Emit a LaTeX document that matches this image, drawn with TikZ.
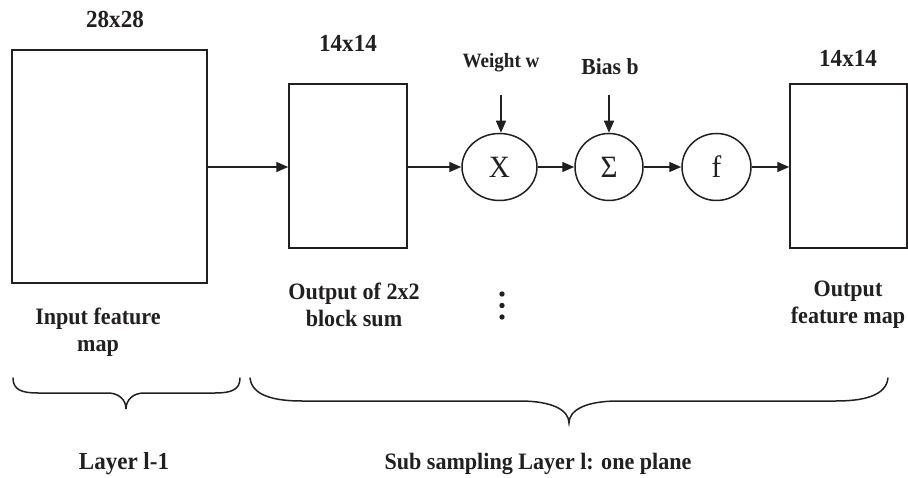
\documentclass[tikz,border=0pt]{standalone}
\usepackage{fontspec}
\setmainfont{Liberation Serif}[FakeStretch=0.94]
\usetikzlibrary{arrows.meta,shapes.geometric}
\definecolor{ink}{HTML}{231F20}
\tikzset{
  fmap/.style={draw=ink, line width=1.5pt, inner sep=0pt},
  opnode/.style={ellipse, draw=ink, line width=1.5pt, inner sep=0pt, minimum height=67pt,
                 font=\fontsize{31}{33}\selectfont, text=ink},
  arr/.style={draw=ink, line width=1.4pt, -{Triangle[length=12pt,width=10pt]}},
  lbl/.style={font=\bfseries\fontsize{23.5}{27}\selectfont, text=ink, align=center, inner sep=0pt},
  biglbl/.style={font=\bfseries\fontsize{24.5}{27}\selectfont, text=ink, align=center, inner sep=0pt},
  brace/.style={draw=ink, line width=1.5pt, line cap=round}
}
\begin{document}
\begin{tikzpicture}[x=1pt,y=-1pt]
\useasboundingbox (0,0) rectangle (908,478);

% feature maps
\node[fmap, minimum width=195pt, minimum height=233pt] (b1) at (109.5,166.5) {};
\node[fmap, minimum width=118pt, minimum height=164pt] (b2) at (348,166) {};
\node[fmap, minimum width=117pt, minimum height=164pt] (b3) at (848.5,166) {};

% operators
\node[opnode, minimum width=75pt] (X) at (499.5,167) {X};
\node[opnode, minimum width=68pt] (S) at (609,167) {Σ};
\node[opnode, minimum width=69pt] (F) at (716.5,167) {f};

% size labels
\node[biglbl] (s1) at (115,19) {28x28};
\node[biglbl] (s2) at (348,43) {14x14};
\node[biglbl] (s3) at (848,58) {14x14};

% weight and bias
\node[lbl, font=\bfseries\fontsize{20.3}{22}\selectfont] (wl) at (501,63) {Weight w};
\node[lbl, font=\bfseries\fontsize{23}{25}\selectfont] (bl) at (610,67) {Bias b};
\coordinate (wtop) at (501,95);
\coordinate (btop) at (609,95);
\draw[arr] (wtop) -- (wtop |- X.north);
\draw[arr] (btop) -- (btop |- S.north);

% main chain
\draw[arr] (b1.east |- X.center) -- (b2.west |- X.center);
\draw[arr] (b2.east |- X.center) -- (X.west);
\draw[arr] (X.east) -- (S.west);
\draw[arr] (S.east) -- (F.west);
\draw[arr] (F.east) -- (b3.west |- F.center);

% captions
\node[lbl] (c1) at (98,332.5) {Input feature\\map};
\node[lbl] (c2) at (354,304.5) {Output of 2x2\\block sum};
\node[lbl] (c3) at (848,304.5) {Output\\feature map};

% vertical dots
\fill[ink] (502,294) circle (2.7);
\fill[ink] (502,305.5) circle (2.7);
\fill[ink] (502,317) circle (2.7);

% braces
\draw[brace] (13,378) .. controls (13,390) and (22,393) .. (38,393) -- (108,393)
  .. controls (119,393) and (126,400) .. (126,409)
  .. controls (126,400) and (133,393) .. (144,393) -- (215,393)
  .. controls (231,393) and (240,390) .. (240,378);
\draw[brace] (250,378) .. controls (252,396) and (275,401) .. (302,401) -- (520,401)
  .. controls (552,401) and (569,410) .. (569,423)
  .. controls (569,410) and (586,401) .. (618,401) -- (836,401)
  .. controls (863,401) and (886,396) .. (888,378);

% layer labels
\node[biglbl] (l1) at (124,464) {Layer l-1};
\node[lbl] (l2) at (538,464) {Sub sampling Layer l: one plane};
\end{tikzpicture}
\end{document}
